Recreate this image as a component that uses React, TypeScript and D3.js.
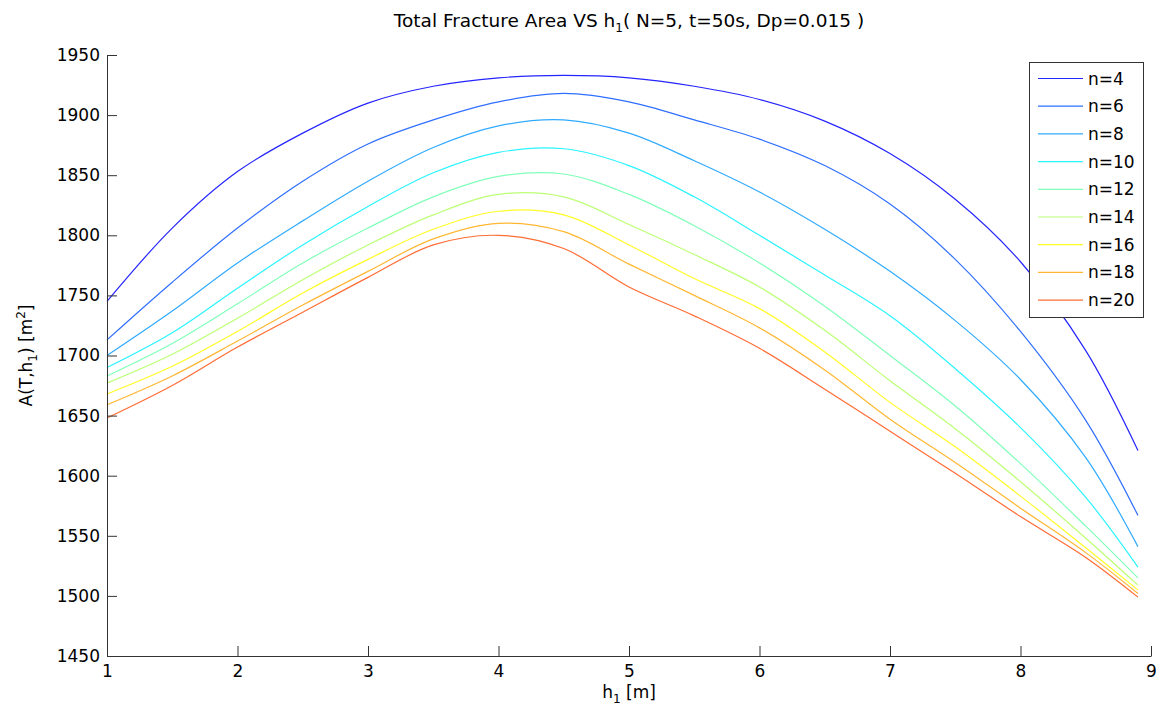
import React, { useEffect, useRef } from 'react';
import * as d3 from 'd3';

const hValues = [1, 1.5, 2, 2.5, 3, 3.5, 4, 4.5, 5, 5.5, 6, 6.5, 7, 7.5, 8, 8.5, 8.9];
const seriesNames = ['n=4', 'n=6', 'n=8', 'n=10', 'n=12', 'n=14', 'n=16', 'n=18', 'n=20'];
const n4 = [1745, 1806, 1853, 1885, 1910, 1924, 1931, 1933, 1931, 1924, 1913, 1895, 1868, 1830, 1778, 1704, 1621];
const n6 = [1713, 1761, 1806, 1845, 1876, 1896, 1911, 1918, 1911, 1896, 1880, 1858, 1826, 1780, 1720, 1646, 1567];
const n8 = [1700, 1737, 1777, 1812, 1845, 1873, 1891, 1896, 1885, 1862, 1836, 1805, 1770, 1729, 1680, 1615, 1541];
const n10 = [1690, 1719, 1756, 1792, 1824, 1852, 1869, 1872, 1858, 1832, 1800, 1767, 1733, 1689, 1640, 1582, 1524];
const n12 = [1683, 1710, 1743, 1777, 1806, 1832, 1849, 1851, 1834, 1808, 1777, 1741, 1700, 1658, 1610, 1558, 1515];
const n14 = [1677, 1701, 1731, 1763, 1792, 1817, 1834, 1832, 1809, 1784, 1757, 1721, 1679, 1639, 1595, 1548, 1509];
const n16 = [1668, 1691, 1720, 1752, 1780, 1805, 1820, 1817, 1792, 1764, 1739, 1703, 1661, 1624, 1583, 1540, 1505];
const n18 = [1659, 1683, 1712, 1742, 1770, 1797, 1810, 1803, 1776, 1750, 1723, 1688, 1647, 1611, 1573, 1536, 1502];
const n20 = [1648, 1675, 1707, 1736, 1765, 1792, 1800, 1789, 1757, 1733, 1706, 1672, 1637, 1602, 1566, 1532, 1499];
const seriesValues = [n4, n6, n8, n10, n12, n14, n16, n18, n20];
const seriesColors = ['#2525ff', '#2f6fff', '#30aaff', '#2af4ff', '#80ffb8', '#bcff74', '#ffff26', '#ffb732', '#ff6c34'];
const xTicks = [1, 2, 3, 4, 5, 6, 7, 8, 9];
const yTicks = [1450, 1500, 1550, 1600, 1650, 1700, 1750, 1800, 1850, 1900, 1950];

const W = 1156;
const H = 712;
const M = { left: 107, right: 1151, top: 55, bottom: 656 };
const FONT = '"DejaVu Sans", sans-serif';

export default function App() {
  const ref = useRef<SVGSVGElement | null>(null);

  useEffect(() => {
    const svg = d3.select(ref.current);
    svg.selectAll('*').remove();

    const x = d3.scaleLinear().domain([1, 9]).range([M.left, M.right]);
    const y = d3.scaleLinear().domain([1450, 1950]).range([M.bottom, M.top]);

    svg.append('rect').attr('width', W).attr('height', H).attr('fill', '#fff');

    const line = d3
      .line<number>()
      .x((_, i) => x(hValues[i]))
      .y((d) => y(d))
      .curve(d3.curveCatmullRom.alpha(0.5));

    seriesValues.forEach((vals, k) => {
      svg
        .append('path')
        .attr('d', line(vals) as string)
        .attr('fill', 'none')
        .attr('stroke', seriesColors[k])
        .attr('stroke-width', 1.2);
    });

    const xAxis = d3
      .axisBottom(x)
      .tickValues(xTicks)
      .tickFormat(d3.format('d'))
      .tickSizeInner(-10)
      .tickSizeOuter(0)
      .tickPadding(9);
    const gx = svg.append('g').attr('transform', `translate(0,${M.bottom})`).call(xAxis);

    const yAxis = d3
      .axisLeft(y)
      .tickValues(yTicks)
      .tickFormat(d3.format('d'))
      .tickSizeInner(-10)
      .tickSizeOuter(0)
      .tickPadding(7);
    const gy = svg.append('g').attr('transform', `translate(${M.left},0)`).call(yAxis);

    [gx, gy].forEach((g) => {
      g.selectAll('path').attr('stroke', '#333').attr('stroke-width', 1);
      g.selectAll('line').attr('stroke', '#333').attr('stroke-width', 1);
      g.selectAll('text').attr('fill', '#000').style('font-family', FONT).style('font-size', '17px');
    });

    const title = svg
      .append('text')
      .attr('x', (M.left + M.right) / 2)
      .attr('y', 27)
      .attr('text-anchor', 'middle')
      .style('font-family', FONT)
      .style('font-size', '18.5px')
      .attr('fill', '#000');
    title.append('tspan').text('Total Fracture Area VS h');
    title.append('tspan').attr('dy', 5).style('font-size', '12px').text('1');
    title.append('tspan').attr('dy', -5).text('( N=5, t=50s, Dp=0.015 )');

    const xl = svg
      .append('text')
      .attr('x', (M.left + M.right) / 2)
      .attr('y', 698)
      .attr('text-anchor', 'middle')
      .style('font-family', FONT)
      .style('font-size', '17px')
      .attr('fill', '#000');
    xl.append('tspan').text('h');
    xl.append('tspan').attr('dy', 5).style('font-size', '12px').text('1');
    xl.append('tspan').attr('dy', -5).text(' [m]');

    const yl = svg
      .append('text')
      .attr('transform', `translate(32,${(M.top + M.bottom) / 2}) rotate(-90)`)
      .attr('text-anchor', 'middle')
      .style('font-family', FONT)
      .style('font-size', '17px')
      .attr('fill', '#000');
    yl.append('tspan').text('A(T,h');
    yl.append('tspan').attr('dy', 5).style('font-size', '12px').text('1');
    yl.append('tspan').attr('dy', -5).text(') [m');
    yl.append('tspan').attr('dy', -7).style('font-size', '12px').text('2');
    yl.append('tspan').attr('dy', 7).text(']');

    const lg = svg.append('g');
    lg.append('rect')
      .attr('x', 1029.5)
      .attr('y', 62.5)
      .attr('width', 114)
      .attr('height', 255)
      .attr('fill', '#fff')
      .attr('stroke', '#333')
      .attr('stroke-width', 1);
    seriesNames.forEach((name, i) => {
      const yy = 78.5 + i * 27.7;
      lg.append('line')
        .attr('x1', 1038)
        .attr('x2', 1083)
        .attr('y1', yy)
        .attr('y2', yy)
        .attr('stroke', seriesColors[i])
        .attr('stroke-width', 1.2);
      lg.append('text')
        .attr('x', 1088)
        .attr('y', yy + 6)
        .style('font-family', FONT)
        .style('font-size', '17px')
        .attr('fill', '#000')
        .text(name);
    });
  }, []);

  return (
    <svg
      ref={ref}
      width={W}
      height={H}
      style={{ position: 'absolute', left: 0, top: 0, display: 'block' }}
    />
  );
}
